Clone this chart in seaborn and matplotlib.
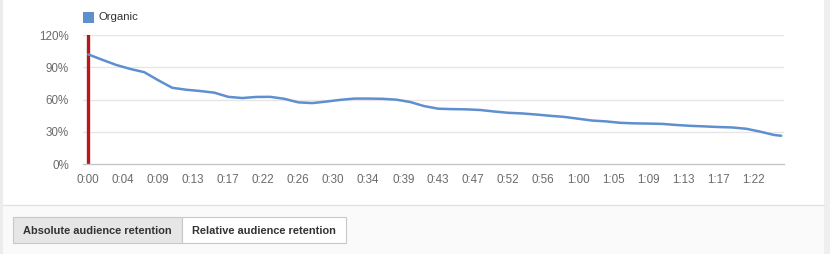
import matplotlib
matplotlib.use("Agg")
import matplotlib.pyplot as plt
import seaborn as sns
import pandas as pd
from matplotlib.patches import Rectangle

# ---- data ----
positions = [0, 2, 4, 6, 8, 10, 12, 14, 16, 18, 20, 22, 24, 26, 28, 30, 32, 34, 36, 38,
             40, 42, 44, 46, 48, 50, 52, 54, 56, 58, 60, 62, 64, 66, 68, 70, 72, 74, 76, 78,
             80, 82, 84, 86, 88, 90, 92, 94, 96, 98, 99]
organic = [102, 97, 92.2, 88.5, 85.5, 78, 71, 69.2, 68, 66.5, 62.6, 61.5, 62.5, 62.6, 60.8,
           57.5, 56.8, 58.2, 59.8, 61, 61, 60.8, 60, 57.8, 54, 51.6, 51.2, 51, 50.4, 49,
           47.8, 47.2, 46.2, 45, 44, 42.3, 40.6, 39.8, 38.5, 38, 37.8, 37.5, 36.5, 35.7,
           35.2, 34.6, 34.2, 33, 30.3, 27.2, 26.5]
tick_positions = [0, 5, 10, 15, 20, 25, 30, 35, 40, 45, 50, 55, 60, 65, 70, 75, 80, 85, 90, 95]
tick_labels = ["0:00", "0:04", "0:09", "0:13", "0:17", "0:22", "0:26", "0:30", "0:34", "0:39",
               "0:43", "0:47", "0:52", "0:56", "1:00", "1:05", "1:09", "1:13", "1:17", "1:22"]
y_ticks = [0, 30, 60, 90, 120]
y_labels = ["0%", "30%", "60%", "90%", "120%"]
series_name = "Organic"
buttons = ["Absolute audience retention", "Relative audience retention"]

df = pd.DataFrame({"position": positions, "retention": organic})

sns.set_theme(style="white")
plt.rcParams["font.family"] = ["Liberation Sans", "DejaVu Sans"]

W, H = 830, 254
fig = plt.figure(figsize=(W / 100, H / 100), dpi=100)
fig.patch.set_facecolor("white")

def px_rect(x0, y0, x1, y1, **kw):
    fig.patches.append(Rectangle((x0 / W, 1 - y1 / H), (x1 - x0) / W, (y1 - y0) / H,
                                 transform=fig.transFigure, figure=fig, **kw))

# outer strips and bottom panel
px_rect(0, 0, 3, H, facecolor="#ececec", edgecolor="none")
px_rect(824, 0, W, H, facecolor="#efefef", edgecolor="none")
px_rect(3, 205, 824, H, facecolor="#fafafa", edgecolor="none")
fig.add_artist(plt.Line2D([3 / W, 824 / W], [1 - 205 / H] * 2, transform=fig.transFigure,
                          color="#e2e2e2", lw=1))

# buttons
px_rect(13, 216.7, 181.5, 243.3, facecolor="#e6e6e6", edgecolor="#c8c8c8", lw=0.8)
px_rect(181.5, 216.7, 345.7, 243.3, facecolor="white", edgecolor="#c8c8c8", lw=0.8)
fig.text(97.3 / W, 1 - 230.5 / H, buttons[0], ha="center", va="center",
         fontsize=7.9, fontweight="bold", color="#333333")
fig.text(263.6 / W, 1 - 230.5 / H, buttons[1], ha="center", va="center",
         fontsize=7.9, fontweight="bold", color="#333333")

# legend
blue = "#5e8fcf"
px_rect(83, 11.7, 94, 22.7, facecolor=blue, edgecolor="none")
fig.text(98 / W, 1 - 17.5 / H, series_name, ha="left", va="center", fontsize=8.2,
         color="#333333")

# chart
ax = fig.add_axes([83 / W, 1 - 164.3 / H, (784 - 83) / W, (164.3 - 35) / H])
ax.set_facecolor("white")
ax.set_xlim(-0.75, 99.4)
ax.set_ylim(0, 120)
for y in y_ticks[1:]:
    ax.axhline(y, color="#e6e6e6", lw=1, zorder=0)
ax.axvline(0, color="#b5191c", lw=2.4, zorder=2)
sns.lineplot(data=df, x="position", y="retention", ax=ax, color=blue, lw=1.8, zorder=3)

ax.set_xticks(tick_positions)
ax.set_xticklabels(tick_labels)
ax.set_yticks(y_ticks)
ax.set_yticklabels(y_labels)
ax.tick_params(axis="both", length=0, labelsize=8.4, labelcolor="#6b6b6b")
ax.tick_params(axis="x", pad=7)
ax.tick_params(axis="y", pad=10)
ax.set_xlabel("")
ax.set_ylabel("")
for s in ["top", "right", "left"]:
    ax.spines[s].set_visible(False)
ax.spines["bottom"].set_color("#c6c6c6")
ax.spines["bottom"].set_linewidth(1)

fig.savefig("out.png", dpi=100)
